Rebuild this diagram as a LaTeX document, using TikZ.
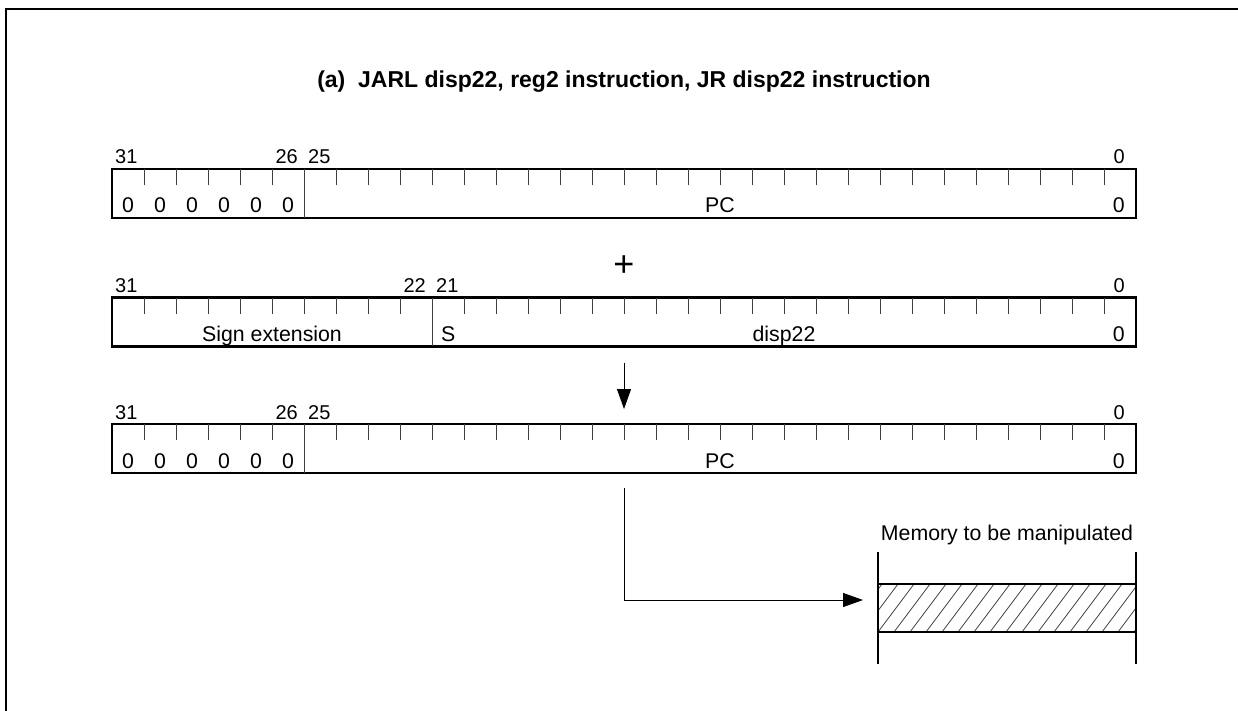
\documentclass[tikz,border=0pt]{standalone}
\usepackage{fontspec}
\setmainfont{Liberation Sans}
\usetikzlibrary{arrows.meta}
\begin{document}
\begin{tikzpicture}[x=1pt,y=-1pt,
  regbox/.style={draw,line width=2.2pt,minimum width=1024pt,minimum height=49pt,inner sep=0pt,outer sep=0pt},
  tick/.style={line width=0.9pt,black!75},
  divider/.style={line width=0.9pt,black!75},
  bitlbl/.style={font=\fontsize{20}{24}\selectfont,inner sep=0pt},
  boxtxt/.style={font=\fontsize{21.3}{25}\selectfont,inner sep=0pt},
  conn/.style={line width=1pt},
  arr/.style={line width=1pt,-{Triangle[length=20pt,width=14pt]}},
  frame/.style={line width=2.2pt}]
\useasboundingbox (0,0) rectangle (1238,711);
% outer frame (open to the right and bottom)
\draw[frame] (6,711) -- (6,9) -- (1238,9);
% title
\node[font=\fontsize{23}{27}\selectfont\bfseries,inner sep=0pt] (title) at (624,82) {(a)\ \ JARL disp22, reg2 instruction, JR disp22 instruction};

% ---------- register 1 ----------
\node[regbox] (r1) at (624,193.5) {};
\foreach \k in {1,...,31}{\ifnum\k=6\else\draw[tick] (112+32*\k,169) -- (112+32*\k,185);\fi}
\draw[divider] (304,169) -- (304,218);
\node[bitlbl,anchor=base west] (r1a) at (115,164) {31};
\node[bitlbl,anchor=base east] (r1b) at (298,164) {26};
\node[bitlbl,anchor=base west] (r1c) at (308,164) {25};
\node[bitlbl,anchor=base east] (r1d) at (1125,164) {0};
\foreach \k in {0,...,5}{\node[boxtxt,anchor=base] (z1\k) at (128+32*\k,213) {0};}
\node[boxtxt,anchor=base] (pc1) at (720,213) {PC};
\node[boxtxt,anchor=base east] (e1) at (1125,213) {0};

% plus
\node[font=\fontsize{36}{38}\selectfont,inner sep=0pt] (plus) at (624,266) {+};

% ---------- register 2 ----------
\node[regbox] (r2) at (624,322) {};
\foreach \k in {1,...,31}{\ifnum\k=10\else\draw[tick] (112+32*\k,298) -- (112+32*\k,314);\fi}
\draw[divider] (432,298) -- (432,346);
\node[bitlbl,anchor=base west] (r2a) at (115,292) {31};
\node[bitlbl,anchor=base east] (r2b) at (426,292) {22};
\node[bitlbl,anchor=base west] (r2c) at (436,292) {21};
\node[bitlbl,anchor=base east] (r2d) at (1125,292) {0};
\node[boxtxt,anchor=base] (se) at (272,341) {Sign extension};
\node[boxtxt,anchor=base west] (s) at (441,341) {S};
\node[boxtxt,anchor=base] (d22) at (784,341) {disp22};
\node[boxtxt,anchor=base east] (e2) at (1125,341) {0};

% ---------- register 3 ----------
\node[regbox] (r3) at (624,448.5) {};
\foreach \k in {1,...,31}{\ifnum\k=6\else\draw[tick] (112+32*\k,424) -- (112+32*\k,440);\fi}
\draw[divider] (304,424) -- (304,473);
\node[bitlbl,anchor=base west] (r3a) at (115,419) {31};
\node[bitlbl,anchor=base east] (r3b) at (298,419) {26};
\node[bitlbl,anchor=base west] (r3c) at (308,419) {25};
\node[bitlbl,anchor=base east] (r3d) at (1125,419) {0};
\foreach \k in {0,...,5}{\node[boxtxt,anchor=base] (z3\k) at (128+32*\k,468) {0};}
\node[boxtxt,anchor=base] (pc3) at (720,468) {PC};
\node[boxtxt,anchor=base east] (e3) at (1125,468) {0};

% ---------- memory ----------
\node[draw,line width=2.2pt,minimum width=258pt,minimum height=48pt,inner sep=0pt,outer sep=0pt] (mem) at (1007,608) {};
\begin{scope}
  \clip (878,584) rectangle (1136,632);
  \foreach \i in {-4,...,18}{\draw[line width=0.8pt,black!75] (878+16*\i,632) -- (878+16*\i+36,584);}
\end{scope}
\draw[line width=2.2pt] (878,584) rectangle (1136,632);
\draw[line width=2.6pt] (878,552) -- (878,664);
\draw[line width=2.6pt] (1136,552) -- (1136,664);
\node[boxtxt,anchor=base] (memlbl) at (1007,540) {Memory to be manipulated};

% ---------- connectors ----------
\coordinate (a1) at ([yshift=-16pt]r2.south);
\coordinate (a2) at ([yshift=15pt]r3.north);
\draw[arr] (a1) -- (a2);
\coordinate (b1) at ([yshift=-15pt]r3.south);
\coordinate (b2) at ([xshift=-15pt,yshift=8pt]mem.west);
\draw[arr] (b1) |- (b2);
\end{tikzpicture}
\end{document}
